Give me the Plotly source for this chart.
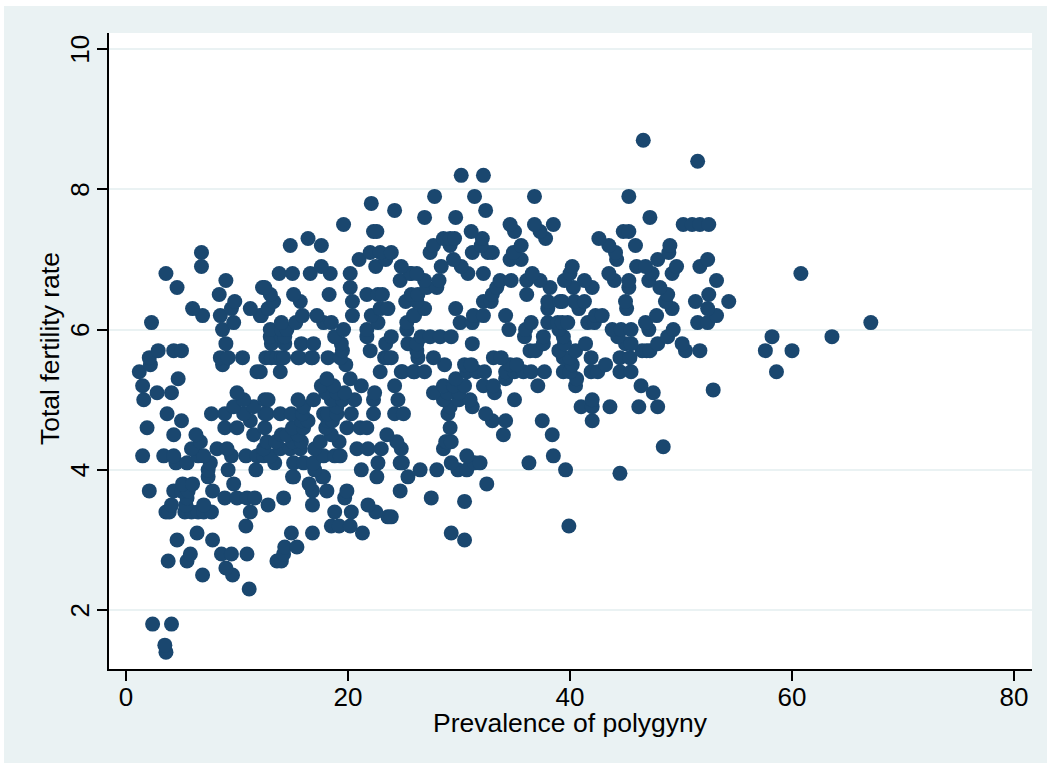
import plotly.graph_objects as go

# Polygyny prevalence of the points found at each total-fertility level
tfr_1_4 = [3.6]
tfr_1_5 = [3.5]
tfr_1_8 = [2.4, 4.1]
tfr_2_3 = [11.1]
tfr_2_5 = [6.9, 9.6]
tfr_2_6 = [9.0]
tfr_2_7 = [3.8, 5.5, 13.6, 14.0]
tfr_2_8 = [5.8, 8.6, 9.5, 10.9, 14.2]
tfr_2_9 = [14.3, 15.4]
tfr_3_0 = [4.6, 7.8, 30.5]
tfr_3_1 = [6.4, 14.9, 16.8, 21.3, 29.3]
tfr_3_2 = [10.8, 18.5, 19.2, 20.2, 39.9]
tfr_3_3 = [23.6, 23.9]
tfr_3_4 = [3.6, 3.9, 5.3, 5.9, 6.5, 7.0, 7.7, 11.2, 18.8, 20.3, 22.5]
tfr_3_5 = [4.1, 5.4, 7.0, 12.8, 16.8, 21.8]
tfr_3_55 = [30.5]
tfr_3_6 = [5.5, 8.9, 10.0, 10.9, 11.6, 14.2, 19.7, 27.5]
tfr_3_7 = [2.1, 4.3, 5.0, 5.6, 7.8, 16.8, 18.1, 19.9, 24.7]
tfr_3_8 = [5.1, 6.0, 9.7, 16.5, 32.5]
tfr_3_9 = [7.4, 15.0, 15.1, 17.7, 17.8, 22.6, 25.4]
tfr_3_95 = [44.5]
tfr_4_0 = [7.4, 9.2, 11.7, 17.0, 21.2, 26.5, 28.0, 29.9, 30.7, 39.6]
tfr_4_1 = [4.5, 5.5, 7.6, 13.4, 15.1, 16.0, 16.9, 22.7, 24.7, 24.9, 29.3, 31.4, 31.9, 36.3]
tfr_4_2 = [1.5, 3.4, 4.3, 6.5, 7.0, 9.5, 10.8, 11.8, 12.4, 13.0, 17.8, 18.8, 19.3, 30.7, 38.5]
tfr_4_3 = [5.9, 8.2, 9.1, 12.4, 13.9, 14.8, 15.7, 17.0, 20.8, 21.8, 23.0, 24.8, 28.6]
tfr_4_33 = [48.4]
tfr_4_4 = [6.7, 12.7, 13.5, 15.0, 15.8, 17.5, 19.2, 24.4, 28.8, 28.9, 29.3]
tfr_4_5 = [4.3, 6.3, 11.5, 14.0, 14.5, 15.5, 18.5, 23.5, 34.0, 38.4]
tfr_4_6 = [1.9, 8.9, 10.0, 12.5, 15.0, 16.0, 18.0, 19.9, 21.1, 21.7, 29.2]
tfr_4_7 = [5.0, 11.2, 15.8, 16.4, 18.2, 18.6, 33.0, 34.2, 37.5, 42.0]
tfr_4_8 = [3.7, 7.7, 8.9, 10.6, 12.5, 12.7, 13.9, 14.9, 15.9, 17.8, 18.2, 19.0, 20.3, 22.3, 24.2, 25.0, 29.0, 32.4]
tfr_4_9 = [9.7, 11.5, 16.0, 19.0, 29.2, 31.2, 41.0, 42.0, 43.6, 46.2, 47.9]
tfr_5_0 = [1.6, 10.6, 12.5, 12.8, 15.5, 16.9, 18.5, 19.5, 20.6, 22.3, 24.5, 28.6, 30.0, 31.0, 35.0, 42.0]
tfr_5_1 = [2.8, 4.1, 10.0, 18.0, 19.0, 19.7, 22.4, 27.7, 29.0, 30.0, 33.2, 47.5]
tfr_5_14 = [52.9]
tfr_5_2 = [1.5, 17.6, 18.7, 21.2, 24.2, 28.6, 29.5, 30.5, 32.2, 33.1, 37.1, 40.5, 46.4]
tfr_5_3 = [4.7, 18.1, 20.2, 29.7, 34.2, 40.6]
tfr_5_4 = [1.2, 11.8, 12.1, 13.9, 22.9, 24.8, 24.9, 25.9, 26.0, 26.9, 30.7, 31.6, 32.3, 34.2, 35.0, 35.8, 36.5, 37.7, 39.4, 40.0, 41.9, 42.5, 44.5, 45.5, 58.6]
tfr_5_5 = [2.2, 8.7, 19.8, 28.7, 30.5, 31.1, 34.6, 35.2, 40.2, 43.2]
tfr_5_6 = [2.1, 8.5, 9.2, 10.5, 12.6, 13.1, 13.6, 14.0, 14.2, 15.5, 15.6, 16.7, 16.8, 18.2, 19.3, 23.3, 23.6, 23.9, 26.3, 27.7, 33.1, 33.8, 39.4, 40.0, 41.9, 44.5, 45.4]
tfr_5_7 = [2.9, 4.3, 5.0, 19.5, 22.0, 26.2, 36.4, 36.9, 39.0, 40.5, 46.5, 46.9, 47.2, 50.4, 51.7, 57.6, 60.0]
tfr_5_8 = [9.0, 13.1, 14.3, 15.8, 16.9, 19.4, 23.4, 25.4, 26.2, 31.2, 37.6, 39.5, 41.4, 45.0, 45.5, 47.9, 50.1]
tfr_5_9 = [13.0, 14.0, 14.3, 18.8, 21.7, 23.9, 26.6, 27.4, 28.3, 29.3, 35.9, 37.6, 39.4, 44.3, 48.8, 58.2, 63.6]
tfr_6_0 = [8.7, 13.0, 14.0, 14.5, 19.6, 21.7, 25.3, 34.5, 36.0, 39.0, 43.8, 44.6, 45.5, 47.1, 49.3]
tfr_6_1 = [2.3, 9.7, 14.0, 15.3, 17.8, 18.5, 22.7, 25.3, 30.1, 31.2, 36.5, 38.0, 38.9, 39.3, 39.8, 41.6, 42.2, 46.8, 51.5, 52.4, 67.1]
tfr_6_2 = [6.9, 8.5, 12.1, 12.2, 15.9, 17.2, 20.4, 22.1, 25.9, 26.0, 31.3, 32.2, 34.2, 42.3, 42.9, 47.8, 53.2]
tfr_6_3 = [6.0, 9.5, 11.2, 12.8, 22.9, 23.6, 26.9, 29.7, 38.0, 40.8, 45.1, 49.2, 52.4]
tfr_6_4 = [9.8, 13.3, 15.7, 20.4, 25.2, 26.2, 32.2, 32.9, 38.0, 39.1, 39.3, 40.4, 41.3, 45.0, 48.6, 51.3, 54.3]
tfr_6_5 = [8.4, 13.0, 15.1, 18.3, 21.7, 22.7, 23.1, 25.7, 26.3, 33.0, 36.1, 48.8, 52.5]
tfr_6_6 = [4.6, 12.3, 12.5, 20.2, 27.1, 28.0, 33.4, 38.2, 40.3, 42.0, 45.3, 48.1]
tfr_6_7 = [9.0, 24.7, 26.9, 28.2, 33.7, 34.7, 36.1, 37.3, 39.5, 41.3, 44.0, 45.3, 47.1, 53.2]
tfr_6_8 = [3.6, 13.8, 15.0, 16.6, 18.4, 20.2, 25.6, 25.7, 26.2, 30.8, 32.2, 36.6, 40.0, 43.5, 47.4, 49.2, 60.8]
tfr_6_9 = [6.8, 17.6, 22.5, 24.8, 28.4, 30.2, 40.2, 46.0, 46.8, 49.6, 51.7]
tfr_7_0 = [21.0, 23.4, 29.5, 34.6, 35.6, 44.2, 47.9, 52.4]
tfr_7_1 = [6.8, 22.0, 22.9, 23.9, 27.4, 31.2, 32.6, 33.0, 34.9, 44.1, 48.9]
tfr_7_2 = [14.8, 17.6, 27.7, 29.2, 32.0, 35.6, 43.5, 45.9, 49.0]
tfr_7_3 = [16.4, 28.6, 29.2, 29.6, 32.1, 37.8, 42.6]
tfr_7_4 = [22.3, 22.6, 31.1, 35.0, 37.3, 44.8, 45.3]
tfr_7_5 = [19.6, 34.6, 36.8, 38.5, 50.2, 51.0, 51.7, 52.5]
tfr_7_6 = [26.9, 29.7, 47.2]
tfr_7_7 = [24.2, 32.4]
tfr_7_8 = [22.1]
tfr_7_9 = [27.8, 31.4, 36.8, 45.3]
tfr_8_2 = [30.2, 32.2]
tfr_8_4 = [51.5]
tfr_8_7 = [46.6]

levels = [
    (1.4, tfr_1_4), (1.5, tfr_1_5), (1.8, tfr_1_8), (2.3, tfr_2_3), (2.5, tfr_2_5), (2.6, tfr_2_6),
    (2.7, tfr_2_7), (2.8, tfr_2_8), (2.9, tfr_2_9), (3.0, tfr_3_0), (3.1, tfr_3_1), (3.2, tfr_3_2),
    (3.33, tfr_3_3), (3.4, tfr_3_4), (3.5, tfr_3_5), (3.55, tfr_3_55), (3.6, tfr_3_6), (3.7, tfr_3_7),
    (3.8, tfr_3_8), (3.9, tfr_3_9), (3.95, tfr_3_95), (4.0, tfr_4_0), (4.1, tfr_4_1), (4.2, tfr_4_2),
    (4.3, tfr_4_3), (4.33, tfr_4_33), (4.4, tfr_4_4), (4.5, tfr_4_5), (4.6, tfr_4_6), (4.7, tfr_4_7),
    (4.8, tfr_4_8), (4.9, tfr_4_9), (5.0, tfr_5_0), (5.1, tfr_5_1), (5.14, tfr_5_14), (5.2, tfr_5_2),
    (5.3, tfr_5_3), (5.4, tfr_5_4), (5.5, tfr_5_5), (5.6, tfr_5_6), (5.7, tfr_5_7), (5.8, tfr_5_8),
    (5.9, tfr_5_9), (6.0, tfr_6_0), (6.1, tfr_6_1), (6.2, tfr_6_2), (6.3, tfr_6_3), (6.4, tfr_6_4),
    (6.5, tfr_6_5), (6.6, tfr_6_6), (6.7, tfr_6_7), (6.8, tfr_6_8), (6.9, tfr_6_9), (7.0, tfr_7_0),
    (7.1, tfr_7_1), (7.2, tfr_7_2), (7.3, tfr_7_3), (7.4, tfr_7_4), (7.5, tfr_7_5), (7.6, tfr_7_6),
    (7.7, tfr_7_7), (7.8, tfr_7_8), (7.9, tfr_7_9), (8.2, tfr_8_2), (8.4, tfr_8_4), (8.7, tfr_8_7),
]
polygyny = [p for level, values in levels for p in values]
fertility = [level for level, values in levels for p in values]

x_ticks = [0, 20, 40, 60, 80]
y_ticks = [2, 4, 6, 8, 10]
x_title = "Prevalence of polygyny"
y_title = "Total fertility rate"

W, H = 1047, 768
LEFT, RIGHT, TOP, BOTTOM = 109, 1032, 33, 669
pw, ph = RIGHT - LEFT, BOTTOM - TOP
FONT = "Liberation Sans"
NAVY = "#1a476f"
TINT = "#eaf2f3"

fig = go.Figure(go.Scatter(
    x=polygyny, y=fertility, mode="markers",
    marker=dict(color=NAVY, size=15, line=dict(width=0)),
    cliponaxis=False, hoverinfo="skip",
))

fig.update_layout(
    width=W, height=H, autosize=False, showlegend=False,
    margin=dict(l=LEFT, r=W - RIGHT, t=TOP, b=H - BOTTOM, pad=0),
    paper_bgcolor="white", plot_bgcolor="white",
    font=dict(family=FONT, size=26, color="black"),
    shapes=[
        dict(type="rect", xref="paper", yref="paper", layer="below", line_width=0, fillcolor=TINT,
             x0=(4 - LEFT) / pw, x1=(W - LEFT) / pw, y0=(BOTTOM - 763) / ph, y1=(BOTTOM - 6) / ph),
        dict(type="rect", xref="paper", yref="paper", layer="below", line_width=0, fillcolor="white",
             x0=0, x1=1, y0=0, y1=1),
    ],
    annotations=[
        dict(text=x_title, xref="paper", yref="paper", showarrow=False, font=dict(size=26.5),
             x=(570 - LEFT) / pw, y=(BOTTOM - 723) / ph, xanchor="center", yanchor="middle"),
        dict(text=y_title, xref="paper", yref="paper", showarrow=False, font=dict(size=26.5), textangle=-90,
             x=(50 - LEFT) / pw, y=(BOTTOM - 349) / ph, xanchor="center", yanchor="middle"),
    ],
    xaxis=dict(
        range=[-1.53, 81.62], tickvals=x_ticks, ticks="outside", ticklen=10, tickwidth=1.5, tickcolor="black",
        showline=True, linecolor="black", linewidth=1.5, showgrid=False, zeroline=False,
        tickfont=dict(size=26), ticklabelstandoff=-6,
    ),
    yaxis=dict(
        range=[1.16, 10.23], tickvals=y_ticks, ticks="outside", ticklen=10, tickwidth=1.5, tickcolor="black",
        showline=True, linecolor="black", linewidth=1.5, showgrid=True, gridcolor=TINT, gridwidth=2,
        zeroline=False, tickangle=-90, tickfont=dict(size=26), ticklabelstandoff=-2, ticklabelshift=4,
    ),
)

fig.write_html("out.html", config=dict(displayModeBar=False), post_script="document.body.style.margin='0';")
